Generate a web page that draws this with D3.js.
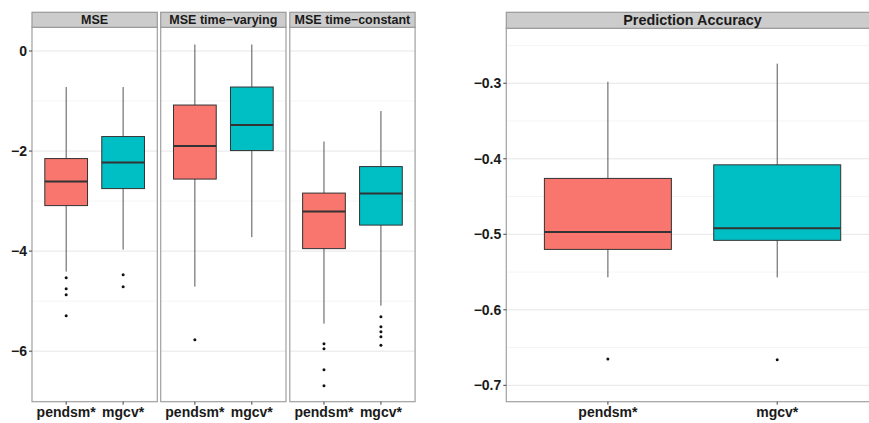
<!DOCTYPE html>
<html>
<head>
<meta charset="utf-8" />
<script src="https://d3js.org/d3.v7.min.js"></script>
<style>
  body { margin: 0; background: #fff; }
  text { font-family: "Liberation Sans", Arial, sans-serif; font-weight: bold; fill: #1a1a1a; }
</style>
</head>
<body>
<div id="chart"></div>
<script>
// data
const methods = ["pendsm*", "mgcv*"];
const colors = ["#F8766D", "#00BFC4"];

const msePanels = ["MSE", "MSE time\u2212varying", "MSE time\u2212constant"];
// per panel, per method: [lower whisker, q1, median, q3, upper whisker]
const mseStats = [
  [[-4.41, -3.09, -2.61, -2.15, -0.72], [-3.97, -2.75, -2.23, -1.71, -0.72]],
  [[-4.71, -2.56, -1.90, -1.08, 0.13], [-3.72, -1.99, -1.48, -0.72, 0.13]],
  [[-5.45, -3.95, -3.21, -2.84, -1.81], [-5.09, -3.48, -2.85, -2.31, -1.20]]
];
const mseOutliers = [
  [[-4.53, -4.75, -4.87, -5.29], [-4.47, -4.71]],
  [[-5.77], []],
  [[-5.85, -5.95, -6.37, -6.69], [-5.31, -5.51, -5.61, -5.71, -5.88]]
];
const mseTicks = [0, -2, -4, -6];
const mseMinor = [-1, -3, -5, -7];

const accTitle = "Prediction Accuracy";
const accStats = [[-0.557, -0.520, -0.497, -0.426, -0.298], [-0.557, -0.508, -0.492, -0.408, -0.274]];
const accOutliers = [[-0.665], [-0.666]];
const accTicks = [-0.3, -0.4, -0.5, -0.6, -0.7];
const accMinor = [-0.25, -0.35, -0.45, -0.55, -0.65];

const W = 869, H = 423;
const svg = d3.select("#chart").append("svg").attr("width", W).attr("height", H);

const fmt = v => (v < 0 ? "\u2212" : "") + Math.abs(v);

function drawPanel(x0, x1, yTop, yBot, stripTop, y, title, stats, outl, ticks, minor, stripFont) {
  const x = d3.scaleLinear().domain([0.4, 2.6]).range([x0, x1]);
  const g = svg.append("g");
  // grid
  g.selectAll(".minor").data(minor).join("line")
    .attr("x1", x0).attr("x2", x1).attr("y1", d => y(d)).attr("y2", d => y(d))
    .attr("stroke", "#f5f5f5").attr("stroke-width", 1);
  g.selectAll(".major").data(ticks).join("line")
    .attr("x1", x0).attr("x2", x1).attr("y1", d => y(d)).attr("y2", d => y(d))
    .attr("stroke", "#e6e6e6").attr("stroke-width", 1);

  const bw = x(1.375) - x(1);
  stats.forEach((s, i) => {
    const cx = x(i + 1);
    g.append("line").attr("x1", cx).attr("x2", cx).attr("y1", y(s[0])).attr("y2", y(s[4]))
      .attr("stroke", "#555").attr("stroke-width", 1);
    g.append("rect").attr("x", cx - bw).attr("width", 2 * bw)
      .attr("y", y(s[3])).attr("height", y(s[1]) - y(s[3]))
      .attr("fill", colors[i]).attr("stroke", "#333").attr("stroke-width", 1);
    g.append("line").attr("x1", cx - bw).attr("x2", cx + bw).attr("y1", y(s[2])).attr("y2", y(s[2]))
      .attr("stroke", "#333").attr("stroke-width", 2);
    g.selectAll(null).data(outl[i]).join("circle")
      .attr("cx", cx).attr("cy", d => y(d)).attr("r", 1.5).attr("fill", "#111");
  });

  // border
  g.append("rect").attr("x", x0).attr("y", yTop).attr("width", x1 - x0).attr("height", yBot - yTop)
    .attr("fill", "none").attr("stroke", "#a0a0a0").attr("stroke-width", 1.2);
  // strip
  g.append("rect").attr("x", x0).attr("y", stripTop).attr("width", x1 - x0).attr("height", yTop - stripTop)
    .attr("fill", "#cccccc").attr("stroke", "#999").attr("stroke-width", 1.2);
  const visRight = Math.min(x1, W);
  g.append("text").attr("x", (x0 + x1) / 2).attr("y", (stripTop + yTop) / 2).attr("dy", "0.36em")
    .attr("text-anchor", "middle").attr("font-size", stripFont).text(title);

  // x axis
  methods.forEach((m, i) => {
    g.append("line").attr("x1", x(i + 1)).attr("x2", x(i + 1)).attr("y1", yBot).attr("y2", yBot + 3)
      .attr("stroke", "#444");
    g.append("text").attr("x", x(i + 1)).attr("y", yBot + 15).attr("text-anchor", "middle")
      .attr("font-size", 14).text(m);
  });
  return x;
}

function drawYAxis(x0, y, ticks) {
  const g = svg.append("g");
  ticks.forEach(t => {
    g.append("line").attr("x1", x0 - 3).attr("x2", x0).attr("y1", y(t)).attr("y2", y(t)).attr("stroke", "#444");
    g.append("text").attr("x", x0 - 5).attr("y", y(t)).attr("dy", "0.36em").attr("text-anchor", "end")
      .attr("font-size", 14).text(fmt(t));
  });
}

// left group of facets
const yMse = d3.scaleLinear().domain([-7.01, 0.474]).range([401.7, 27.3]);
const lefts = [32, 160.7, 289.8];
const pw = 125.3;
msePanels.forEach((t, k) => {
  drawPanel(lefts[k], lefts[k] + pw, 27.3, 401.7, 12.3, yMse, t, mseStats[k], mseOutliers[k], mseTicks, mseMinor, 12.5);
});
drawYAxis(32, yMse, mseTicks);

// right plot
const yAcc = d3.scaleLinear().domain([-0.7217, -0.2272]).range([401.7, 28.3]);
drawPanel(506.3, 878.8, 28.3, 401.7, 12.3, yAcc, accTitle, accStats, accOutliers, accTicks, accMinor, 14.4);
drawYAxis(506.3, yAcc, accTicks);
</script>
</body>
</html>
